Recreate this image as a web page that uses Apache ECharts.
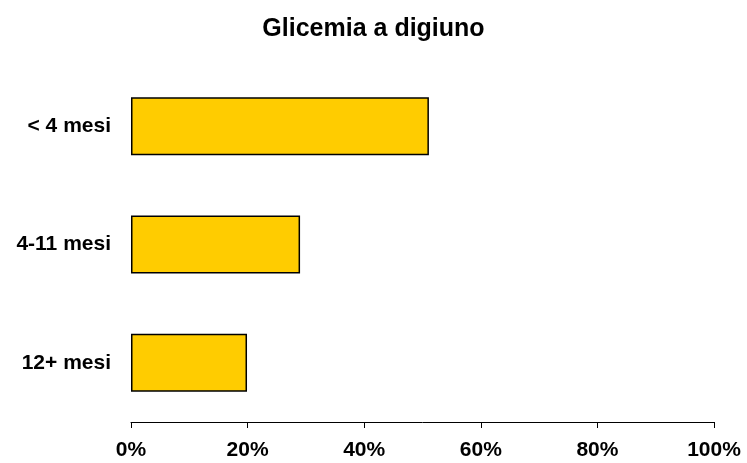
<!DOCTYPE html>
<html lang="it">
<head>
    <meta charset="UTF-8">
    <title>Glicemia a digiuno</title>
    <script src="https://cdn.jsdelivr.net/npm/echarts@6.0.0/dist/echarts.min.js"></script>
    <style>
        html, body { margin: 0; padding: 0; background: #fff; }
    </style>
</head>
<body>
<div id="chart1" style="width: 747px;height:463px;"></div>

<script>
    // categories, top to bottom
    var categories = ['< 4 mesi', '4-11 mesi', '12+ mesi'];
    // percent values
    var values = [51.1, 29.0, 19.9];
    var tickLabels = ['0%', '20%', '40%', '60%', '80%', '100%'];

    var myChart = echarts.init(document.getElementById('chart1'));
    var option = {
        animation: false,
        title: {
            text: 'Glicemia a digiuno',
            left: 'center',
            top: 12,
            textStyle: {
                fontFamily: 'Liberation Sans',
                fontWeight: 'bold',
                fontSize: 25,
                color: '#000'
            }
        },
        grid: {
            left: 131,
            right: 33,
            top: 67,
            bottom: 41
        },
        xAxis: {
            type: 'value',
            min: 0,
            max: 100,
            interval: 20,
            splitLine: { show: false },
            axisLine: { show: true, lineStyle: { color: '#000', width: 1 } },
            axisTick: { show: true, length: 6, lineStyle: { color: '#000' } },
            axisLabel: {
                margin: 18,
                fontFamily: 'Liberation Sans',
                fontWeight: 'bold',
                fontSize: 21,
                color: '#000',
                formatter: function (v) { return tickLabels[Math.round(v / 20)]; }
            }
        },
        yAxis: {
            type: 'category',
            inverse: true,
            data: categories,
            axisLine: { show: false },
            axisTick: { show: false },
            axisLabel: {
                margin: 20,
                fontFamily: 'Liberation Sans',
                fontWeight: 'bold',
                fontSize: 21,
                color: '#000'
            }
        },
        series: [{
            type: 'bar',
            data: values,
            barWidth: 58,
            itemStyle: {
                color: '#FFCC00',
                borderColor: '#000',
                borderWidth: 1.5
            }
        }]
    };
    myChart.setOption(option);
</script>
</body>
</html>
